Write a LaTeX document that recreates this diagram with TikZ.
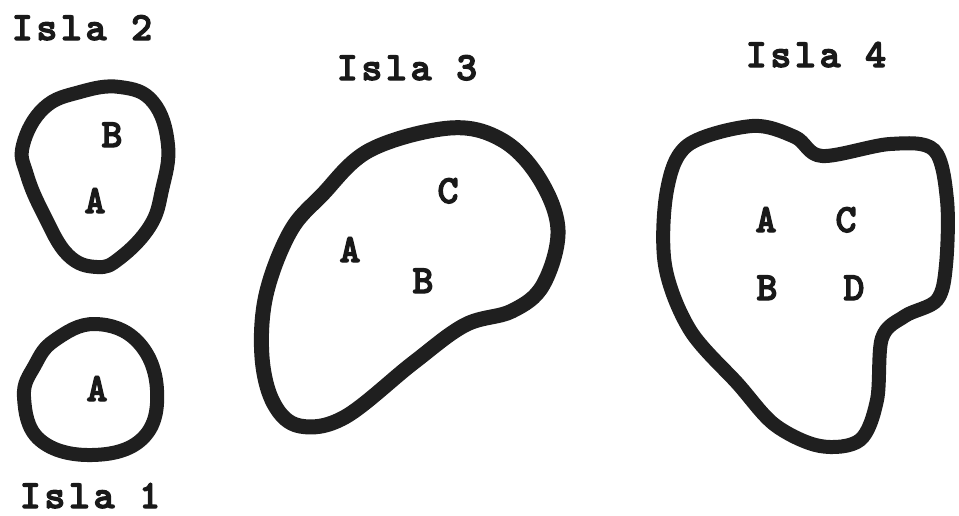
\documentclass[tikz,border=0pt]{standalone}
\usepackage{fontspec}
\newfontfamily\courbold{lmmonolt10-bold.otf}[LetterSpace=9, FakeBold=3]
\begin{document}
\begin{tikzpicture}[x=1pt,y=-1pt,
  lbl/.style={font=\courbold\fontsize{40}{42}\selectfont, inner sep=0pt, anchor=base, text=black!90},
  coast/.style={draw=black!88, line width=14pt, line join=round}]
\useasboundingbox (0,0) rectangle (959,515);
% Isla 2
\draw[coast] plot[smooth cycle, tension=0.7] coordinates {
  (120,87) (153,102) (168,145) (162,190) (150,226) (120,258) (97,267)
  (68,255) (44,215) (27,175) (23,145) (44,108) (80,92)};
% Isla 1
\draw[coast] plot[smooth cycle, tension=0.7] coordinates {
  (95,324) (138,342) (157,390) (143,438) (92,455) (40,440) (24,397) (35,365) (55,340)};
% Isla 3
\draw[coast, line width=15pt] plot[smooth cycle, tension=0.6] coordinates {
  (450,128) (502,140) (539,178) (558,230) (543,285) (512,311) (465,325)
  (413,363) (345,417) (300,426) (274,404) (262,357) (266,295) (290,232)
  (322,195) (370,150)};
% Isla 4
\draw[coast] plot[smooth cycle, tension=0.55] coordinates {
  (752,126) (795,137) (822,156) (890,144) (934,150) (947,200) (946,265)
  (937,300) (905,316) (882,338) (877,400) (860,440) (820,446) (775,425)
  (738,384) (690,330) (665,265) (667,190) (688,145)};
% titles
\node[lbl] (t2) at (82,40) {Isla 2};
\node[lbl] (t1) at (90,508) {Isla 1};
\node[lbl] (t3) at (407,80) {Isla 3};
\node[lbl] (t4) at (816,67) {Isla 4};
% species
\node[lbl] (i2b) at (112,147) {B};
\node[lbl] (i2a) at (95,213) {A};
\node[lbl] (i1a) at (97,401) {A};
\node[lbl] (i3c) at (448,203) {C};
\node[lbl] (i3a) at (350,262) {A};
\node[lbl] (i3b) at (423,293) {B};
\node[lbl] (i4a) at (766,232) {A};
\node[lbl] (i4c) at (846,232) {C};
\node[lbl] (i4b) at (767,300) {B};
\node[lbl] (i4d) at (854,300) {D};
\end{tikzpicture}
\end{document}
